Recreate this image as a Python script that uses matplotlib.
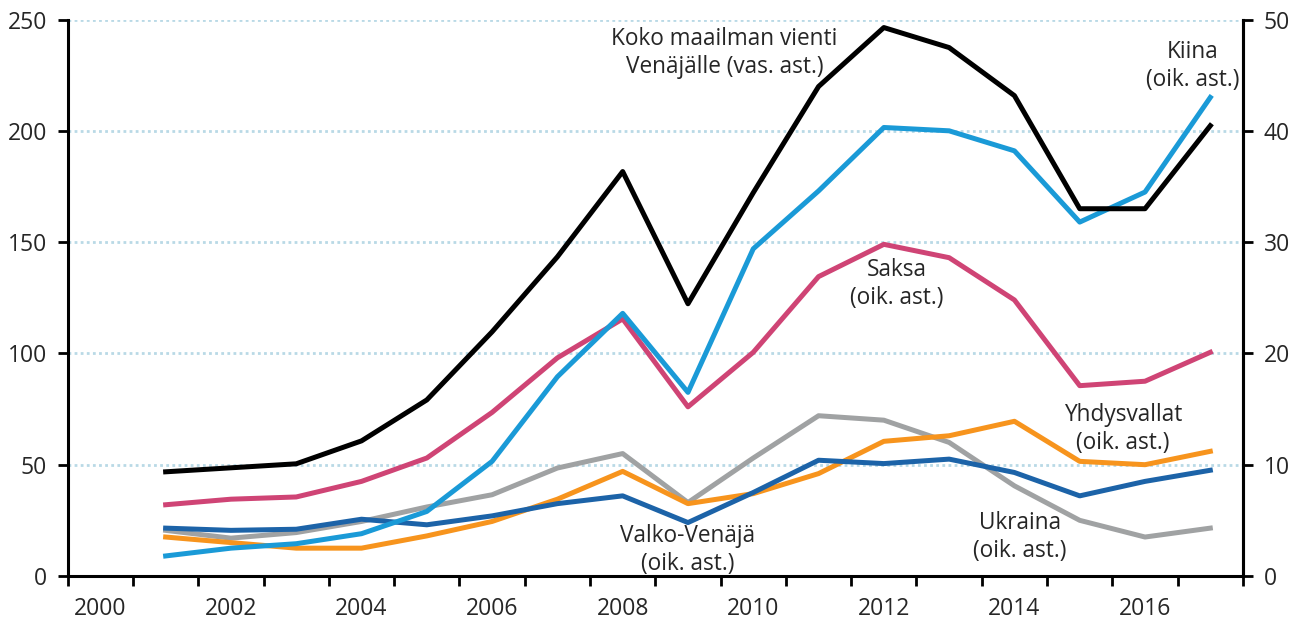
import matplotlib.pyplot as plt
import numpy as np

plt.rcParams["font.family"] = ["Open Sans", "DejaVu Sans"]

years = list(range(2001, 2018))

# left axis, total exports to Russia
world = [46.8, 48.6, 50.4, 60.7, 79.1, 109.7, 143.4, 181.7, 122.3, 172.2,
         219.9, 246.4, 237.4, 215.8, 165.0, 165.0, 202.3]

# right axis
china = [1.8, 2.5, 2.9, 3.8, 5.8, 10.3, 17.9, 23.6, 16.5, 29.4,
         34.6, 40.3, 40.0, 38.2, 31.8, 34.5, 43.0]
germany = [6.4, 6.9, 7.1, 8.5, 10.6, 14.7, 19.6, 23.1, 15.2, 20.1,
           26.9, 29.8, 28.6, 24.8, 17.1, 17.5, 20.1]
ukraine = [4.1, 3.4, 3.9, 4.9, 6.2, 7.3, 9.7, 11.0, 6.6, 10.6,
           14.4, 14.0, 12.0, 8.1, 5.0, 3.5, 4.3]
usa = [3.5, 3.0, 2.5, 2.5, 3.6, 4.9, 6.9, 9.4, 6.5, 7.4,
       9.2, 12.1, 12.6, 13.9, 10.3, 10.0, 11.2]
belarus = [4.3, 4.1, 4.2, 5.1, 4.6, 5.4, 6.5, 7.2, 4.8, 7.5,
           10.4, 10.1, 10.5, 9.3, 7.2, 8.5, 9.5]

year_labels = [2000, 2002, 2004, 2006, 2008, 2010, 2012, 2014, 2016]

LW = 3.6
TXT = "#262626"

fig = plt.figure(figsize=(13.07, 6.26), dpi=100)
ax = fig.add_axes([0.0518, 0.0799, 0.8992, 0.8889])
ax2 = ax.twinx()

ax.set_xlim(1999.5, 2017.5)
ax.set_ylim(0, 250)
ax2.set_ylim(0, 50)

ax.set_yticks(np.arange(0, 251, 50))
ax2.set_yticks(np.arange(0, 51, 10))
for y in range(50, 251, 50):
    ax.axhline(y, color="#b9d9e6", lw=2, ls=(0, (1, 1.2)), zorder=0)

ax2.plot(years, ukraine, color="#a0a2a3", lw=LW, zorder=2)
ax2.plot(years, usa, color="#f7941d", lw=LW, zorder=3)
ax2.plot(years, belarus, color="#1c63a8", lw=LW, zorder=4)
ax2.plot(years, germany, color="#cf4475", lw=LW, zorder=5)
ax2.plot(years, china, color="#1a9ad7", lw=LW, zorder=6)
# black series belongs to left axis, draw it on ax2 scaled so it stays on top
ax2.plot(years, [v / 5 for v in world], color="black", lw=LW, zorder=7)

ax.set_xticks(year_labels)
ax.set_xticks(np.arange(1999.5, 2018, 1), minor=True)
ax.tick_params(axis="x", which="major", length=0, pad=15)
ax.tick_params(axis="x", which="minor", length=7, width=2, direction="out")
for a in (ax, ax2):
    a.tick_params(axis="y", length=7, width=2, direction="out", pad=8)
    a.tick_params(labelsize=16.5, labelcolor=TXT)
    a.spines["top"].set_visible(False)
    for s in ("left", "right", "bottom"):
        a.spines[s].set_linewidth(2.2)
ax2.spines["left"].set_visible(False)
ax2.spines["bottom"].set_visible(False)

fs = 16.3
ls = 1.22
ax2.text(2009.56, 47.0, "Koko maailman vienti\nVenäjälle (vas. ast.)", ha="center",
         va="center", fontsize=fs, color=TXT, linespacing=ls, zorder=10)
ax2.text(2016.73, 45.8, "Kiina\n(oik. ast.)", ha="center", va="center",
         fontsize=fs, color=TXT, linespacing=ls, zorder=10)
ax2.text(2012.2, 26.2, "Saksa\n(oik. ast.)", ha="center", va="center",
         fontsize=fs, color=TXT, linespacing=ls, zorder=10)
ax2.text(2015.66, 13.2, "Yhdysvallat\n(oik. ast.)", ha="center", va="center",
         fontsize=fs, color=TXT, linespacing=ls, zorder=10)
ax2.text(2009.0, 2.3, "Valko-Venäjä\n(oik. ast.)", ha="center", va="center",
         fontsize=fs, color=TXT, linespacing=ls, zorder=10)
ax2.text(2014.08, 3.5, "Ukraina\n(oik. ast.)", ha="center", va="center",
         fontsize=fs, color=TXT, linespacing=ls, zorder=10)

fig.savefig("out.png", dpi=100)
